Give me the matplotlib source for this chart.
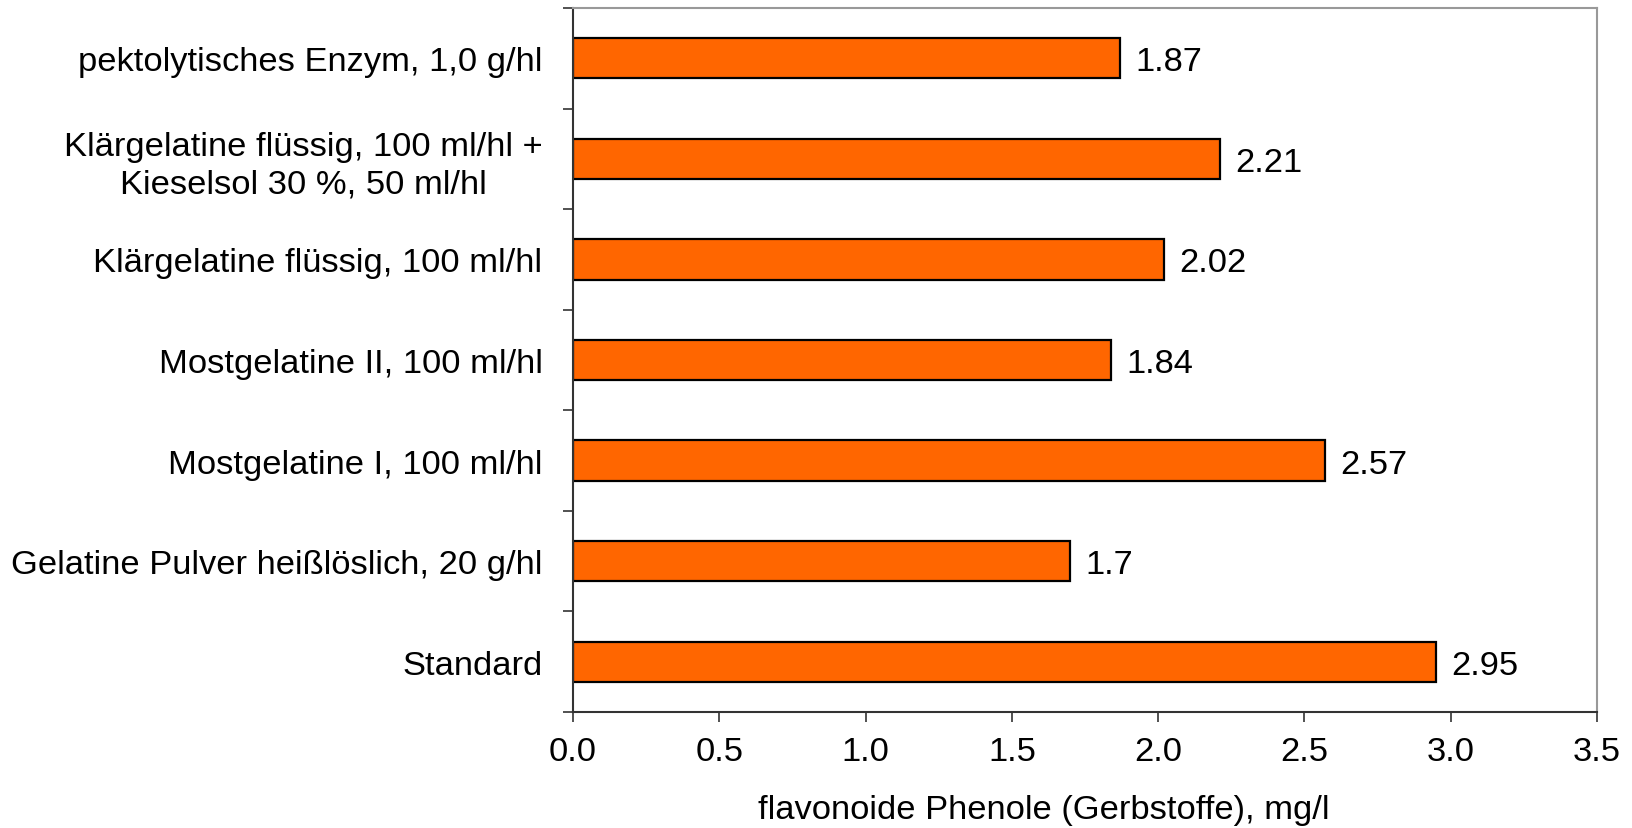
import matplotlib.pyplot as plt
import numpy as np

plt.rcParams['font.family'] = ['Liberation Sans', 'DejaVu Sans']

# treatments, listed bottom to top
treatments = [
    "Standard",
    "Gelatine Pulver heißlöslich, 20 g/hl",
    "Mostgelatine I, 100 ml/hl",
    "Mostgelatine II, 100 ml/hl",
    "Klärgelatine flüssig, 100 ml/hl",
    "Klärgelatine flüssig, 100 ml/hl +\nKieselsol 30 %, 50 ml/hl",
    "pektolytisches Enzym, 1,0 g/hl",
]
phenole = [2.95, 1.7, 2.57, 1.84, 2.02, 2.21, 1.87]
x_ticks = [0.0, 0.5, 1.0, 1.5, 2.0, 2.5, 3.0, 3.5]

fs = 24.8

fig = plt.figure(figsize=(16.32, 8.29), dpi=100)
ax = fig.add_axes([573 / 1632, 1 - 713 / 829, 1024 / 1632, 704 / 829])

pos = np.arange(len(treatments))
ax.barh(pos, phenole, height=0.4, color='#FF6600', edgecolor='black', linewidth=1.6)

for p, v in zip(pos, phenole):
    ax.annotate(f"{v:g}", (v, p), xytext=(11, -2.5), textcoords='offset points',
                va='center', ha='left', fontsize=fs)

ax.set_xlim(0, 3.5)
ax.set_ylim(-0.5, len(treatments) - 0.5)
ax.set_xticks(x_ticks)
ax.set_xticklabels([f"{t:.1f}" for t in x_ticks])

# category boundaries get the tick marks, labels sit in between
ax.set_yticks(np.arange(-0.5, len(treatments), 1.0))
ax.set_yticklabels([])
ax.set_yticks(pos, minor=True)
ax.set_yticklabels(treatments, minor=True)
for lbl in ax.get_yticklabels(minor=True):
    lbl.set_multialignment('center')
    lbl.set_linespacing(1.27)

ax.tick_params(axis='x', which='major', direction='out', length=7.5, width=1.2,
               color='#333333', labelsize=fs, pad=10)
ax.tick_params(axis='y', which='major', direction='out', length=7.5, width=1.2,
               color='#333333')
ax.tick_params(axis='y', which='minor', length=0, labelsize=fs, pad=22)

for side in ['left', 'bottom']:
    ax.spines[side].set_color('#333333')
    ax.spines[side].set_linewidth(1.5)
for side in ['top', 'right']:
    ax.spines[side].set_color('#999999')
    ax.spines[side].set_linewidth(1.5)

ax.set_xlabel("flavonoide Phenole (Gerbstoffe), mg/l", fontsize=fs,
              ha='left', va='baseline')
ax.xaxis.set_label_coords((758 - 573) / 1024, (713 - 819) / 704)

fig.savefig("out.png", dpi=100)
